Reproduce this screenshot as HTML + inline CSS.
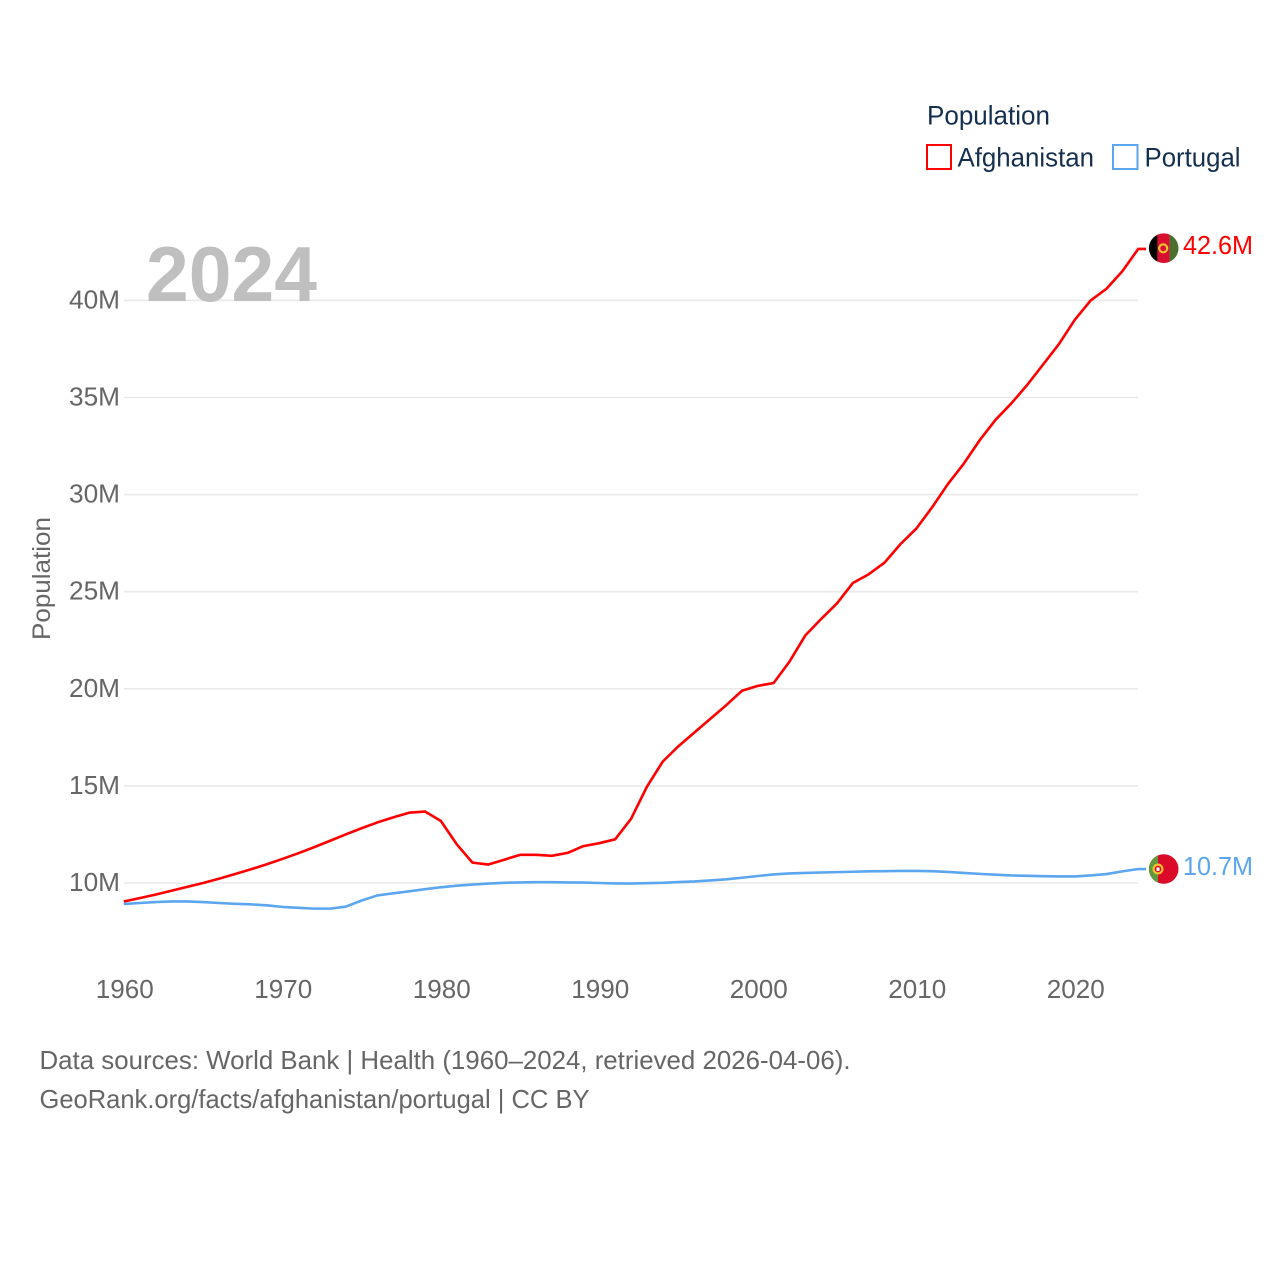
<!DOCTYPE html>
<html>
<head>
<meta charset="utf-8">
<style>
html,body{margin:0;padding:0;background:#fff;}
svg{display:block;font-family:"Liberation Sans",sans-serif;}
</style>
</head>
<body>
<svg id="chart" xmlns="http://www.w3.org/2000/svg" width="1280" height="1280" viewBox="0 0 1280 1280">
  <defs>
    <clipPath id="clip-af"><circle cx="1163.7" cy="248.2" r="14.8"/></clipPath>
    <clipPath id="clip-pt"><circle cx="1163.7" cy="869" r="14.8"/></clipPath>
  </defs>
  <g id="grid"></g>
  <g id="yticks"></g>
  <g id="xticks"></g>
  <text x="146" y="301" font-size="78" font-weight="bold" fill="#bfbfbf" textLength="171" lengthAdjust="spacingAndGlyphs">2024</text>
  <text transform="translate(50,640) rotate(-90)" font-size="25" fill="#666666" textLength="123" lengthAdjust="spacingAndGlyphs">Population</text>
  <path id="line-af" fill="none" stroke="#ff0000" stroke-width="2.6" stroke-linejoin="round"></path>
  <path id="line-pt" fill="none" stroke="#5ba6ee" stroke-width="2.6" stroke-linejoin="round"></path>
  <g clip-path="url(#clip-af)">
    <rect x="1148" y="232" width="10" height="33" fill="#000000"/>
    <rect x="1157.3" y="232" width="12.4" height="33" fill="#d80f2f"/>
    <rect x="1169.6" y="232" width="11" height="33" fill="#4b6f2f"/>
    <circle cx="1163.2" cy="248.3" r="4" fill="none" stroke="#f2c230" stroke-width="2.2"/>
  </g>
  <g clip-path="url(#clip-pt)">
    <rect x="1148" y="853" width="33" height="33" fill="#da0a28"/>
    <rect x="1148" y="853" width="10" height="33" fill="#5f9a3c"/>
    <circle cx="1158" cy="869" r="4.4" fill="#da0a28" stroke="#f5c32e" stroke-width="2.2"/>
    <rect x="1156.5" y="867.5" width="3" height="3.5" fill="#fff"/>
  </g>
  <text id="label-af" x="1183" y="254" font-size="26" fill="#ff0000" textLength="70" lengthAdjust="spacingAndGlyphs"></text>
  <text id="label-pt" x="1183" y="875" font-size="26" fill="#5ba6ee" textLength="70" lengthAdjust="spacingAndGlyphs"></text>
  <g>
    <text x="927" y="124.5" font-size="26.5" fill="#15304f" textLength="123" lengthAdjust="spacingAndGlyphs">Population</text>
    <rect x="927" y="145" width="24" height="24" fill="none" stroke="#ff0000" stroke-width="2"/>
    <text x="957.5" y="166.5" font-size="26.5" fill="#15304f" textLength="136.5" lengthAdjust="spacingAndGlyphs">Afghanistan</text>
    <rect x="1113" y="145" width="24.5" height="24" fill="none" stroke="#5ba6ee" stroke-width="2"/>
    <text x="1144.5" y="166.5" font-size="26.5" fill="#15304f" textLength="96" lengthAdjust="spacingAndGlyphs">Portugal</text>
  </g>
  <text x="39.5" y="1069" font-size="26" fill="#666666" textLength="811" lengthAdjust="spacingAndGlyphs">Data sources: World Bank | Health (1960–2024, retrieved 2026-04-06).</text>
  <text x="39.5" y="1108" font-size="26" fill="#666666" textLength="550" lengthAdjust="spacingAndGlyphs">GeoRank.org/facts/afghanistan/portugal | CC BY</text>
</svg>
<script>
var years = [];
var startYear = 1960;
var afghanistan = [9.05,9.22,9.4,9.6,9.8,10.0,10.22,10.46,10.7,10.96,11.24,11.53,11.84,12.17,12.5,12.82,13.12,13.38,13.62,13.68,13.2,12.0,11.05,10.95,11.2,11.45,11.45,11.4,11.55,11.9,12.05,12.25,13.3,14.95,16.25,17.05,17.75,18.45,19.15,19.9,20.15,20.3,21.4,22.75,23.6,24.4,25.45,25.9,26.5,27.45,28.25,29.35,30.55,31.6,32.8,33.85,34.7,35.65,36.7,37.75,39.0,40.0,40.6,41.5,42.65];
var portugal = [8.92,8.97,9.02,9.05,9.05,9.02,8.97,8.93,8.9,8.85,8.77,8.72,8.68,8.68,8.78,9.1,9.36,9.47,9.57,9.68,9.78,9.86,9.92,9.97,10.01,10.03,10.04,10.04,10.03,10.02,10.0,9.98,9.97,9.99,10.01,10.05,10.08,10.13,10.19,10.27,10.36,10.44,10.49,10.52,10.54,10.56,10.58,10.6,10.61,10.62,10.62,10.61,10.57,10.52,10.47,10.43,10.39,10.37,10.35,10.34,10.34,10.39,10.46,10.6,10.72];
var yTickValues = [10,15,20,25,30,35,40];
var xTickValues = [1960,1970,1980,1990,2000,2010,2020];
var afLabel = '42.6M';
var ptLabel = '10.7M';

for (var i = 0; i < afghanistan.length; i++) { years.push(startYear + i); }

function xScale(year){ return 123.8 + (year - 1960) * 15.85; }
function yScale(v){ return 883 - (v - 10) * 19.42; }

var NS = 'http://www.w3.org/2000/svg';
var grid = document.getElementById('grid');
var yG = document.getElementById('yticks');
var xG = document.getElementById('xticks');

yTickValues.forEach(function(v){
  var l = document.createElementNS(NS,'line');
  
  
  l.setAttribute('x1', 124);
  l.setAttribute('x2', 1138);
  l.setAttribute('y1', yScale(v));
  l.setAttribute('y2', yScale(v));
  l.setAttribute('stroke', '#e9e9e9');
  l.setAttribute('stroke-width', '1.6');
  grid.appendChild(l);
  var t = document.createElementNS(NS,'text');
  
  
  t.setAttribute('x', 69);
  t.setAttribute('y', yScale(v) + 8);
  t.setAttribute('font-size', '26');
  t.setAttribute('fill', '#666666');
  t.setAttribute('textLength', '51');
  t.setAttribute('lengthAdjust', 'spacingAndGlyphs');
  t.textContent = v + 'M';
  yG.appendChild(t);
});

xTickValues.forEach(function(y){
  var t = document.createElementNS(NS,'text');
  
  
  t.setAttribute('x', xScale(y) + 1);
  t.setAttribute('y', 998);
  t.setAttribute('text-anchor', 'middle');
  t.setAttribute('font-size', '25.5');
  t.setAttribute('fill', '#666666');
  t.setAttribute('textLength', '58');
  t.setAttribute('lengthAdjust', 'spacingAndGlyphs');
  t.textContent = y;
  xG.appendChild(t);
});

function linePath(vals){
  var d = '';
  vals.forEach(function(v,i){
    d += (i ? 'L' : 'M') + xScale(years[i]).toFixed(2) + ' ' + yScale(v).toFixed(2);
  });
  d += 'H1146';
  return d;
}
document.getElementById('line-af').setAttribute('d', linePath(afghanistan));
document.getElementById('line-pt').setAttribute('d', linePath(portugal));
document.getElementById('label-af').textContent = afLabel;
document.getElementById('label-pt').textContent = ptLabel;
</script>
</body>
</html>
